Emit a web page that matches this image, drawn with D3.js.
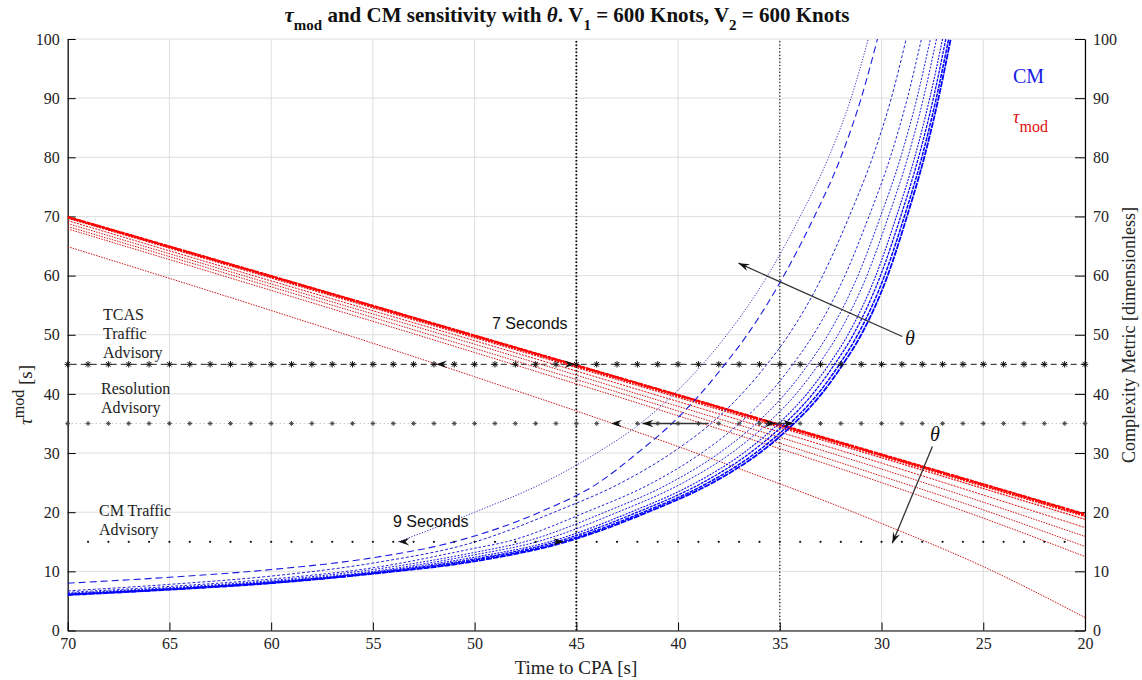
<!DOCTYPE html>
<html><head><meta charset="utf-8">
<script src="https://cdn.jsdelivr.net/npm/d3@7"></script>
<style>
body{margin:0;background:#fff}
svg{display:block}
</style>
</head><body>
<svg id="c" width="1142" height="680" font-family="Liberation Serif"></svg>
<script>
// ---------- data ----------
const xTicks = [70, 65, 60, 55, 50, 45, 40, 35, 30, 25, 20];
const yTicks = [0, 10, 20, 30, 40, 50, 60, 70, 80, 90, 100];

// tau_mod lines (red), values at these times to CPA
const redT = [70, 60, 50, 40, 30, 25, 20];
const red1 = [64.9, 54.1, 42.9, 31.1, 18.1, 10.8, 2.2];
const red2 = [67.9, 57.5, 47.0, 36.3, 25.0, 19.0, 12.5];
const red3 = [68.3, 58.1, 47.7, 37.1, 26.1, 20.4, 14.2];
const red4 = [68.8, 58.6, 48.4, 37.9, 27.3, 21.7, 15.9];
const red5 = [69.3, 59.1, 49.0, 38.7, 28.3, 22.9, 17.4];
const red6 = [69.7, 59.6, 49.5, 39.4, 29.2, 24.0, 18.8];
const red7 = [69.8, 59.8, 49.7, 39.65, 29.5, 24.4, 19.3];
const red8 = [69.85, 59.85, 49.8, 39.75, 29.65, 24.6, 19.5];
const red9 = [69.9, 59.9, 49.85, 39.8, 29.7, 24.7, 19.6];
const red10 = [69.95, 59.95, 49.9, 39.85, 29.8, 24.75, 19.7];

// CM curves (blue): lower part as values at fixed times,
// upper part as times at which fixed CM levels are reached
const blueLowT = [70, 65, 60, 55, 50];
const blueV = [15, 20, 25, 30, 35, 40, 45, 50, 60, 70, 80, 90, 100];
const blue1Low = [];
const blue1T = [53.75, 50.0, 46.6, 44.0, 41.85, 40.2, 38.8, 37.6, 35.6, 34.0, 32.6, 31.5, 30.65];
const blue2Low = [8.0, 9.0, 10.3, 12.3];
const blue2T = [51.0, 46.8, 43.9, 42.0, 40.3, 38.9, 37.7, 36.6, 34.8, 33.3, 32.0, 31.0, 30.2];
const blue3Low = [6.7, 7.8, 9.2, 11.4];
const blue3T = [49.96, 46.09, 42.78, 40.32, 38.38, 36.87, 35.63, 34.56, 32.89, 31.59, 30.44, 29.52, 28.79];
const blue4Low = [6.45, 7.45, 8.7, 10.6, 13.9];
const blue4T = [48.44, 44.53, 41.25, 38.85, 36.99, 35.53, 34.36, 33.35, 31.8, 30.62, 29.57, 28.73, 28.04];
const blue5Low = [6.3, 7.25, 8.45, 10.3, 13.2];
const blue5T = [47.54, 43.6, 40.35, 37.98, 36.16, 34.74, 33.6, 32.63, 31.16, 30.05, 29.06, 28.26, 27.6];
const blue6Low = [6.2, 7.15, 8.3, 10.0, 12.8];
const blue6T = [46.93, 42.97, 39.74, 37.38, 35.61, 34.2, 33.09, 32.14, 30.72, 29.66, 28.71, 27.94, 27.3];
const blue7Low = [6.15, 7.05, 8.2, 9.85, 12.4];
const blue7T = [46.32, 42.34, 39.12, 36.79, 35.05, 33.67, 32.58, 31.65, 30.28, 29.27, 28.37, 27.63, 27.0];
const blue8Low = [6.1, 7.0, 8.1, 9.75, 12.1];
const blue8T = [45.99, 42.0, 38.79, 36.47, 34.75, 33.38, 32.31, 31.39, 30.05, 29.06, 28.18, 27.45, 26.84];
const blue9Low = [6.05, 6.95, 8.05, 9.65, 11.9];
const blue9T = [45.71, 41.71, 38.51, 36.2, 34.49, 33.13, 32.07, 31.17, 29.85, 28.88, 28.02, 27.31, 26.7];
const blue10Low = [6.0, 6.9, 8.0, 9.6, 11.7];
const blue10T = [45.5, 41.5, 38.3, 36.0, 34.3, 32.95, 31.9, 31.0, 29.7, 28.75, 27.9, 27.2, 26.6];

// threshold lines
const tcasTA = 45, tcasRA = 35, cmTA = 15;
const vLines = [45, 35];

// ---------- layout ----------
const SERIF = "Liberation Serif", SANS = "Liberation Sans";
const svg = d3.select("#c");
const x = d3.scaleLinear().domain([70, 20]).range([67.7, 1085]);
const y = d3.scaleLinear().domain([0, 100]).range([630.5, 39]);

// grid
const g = svg.append("g");
g.selectAll(".gx").data(xTicks).join("line")
  .attr("x1", d => x(d)).attr("x2", d => x(d)).attr("y1", y(0)).attr("y2", y(100))
  .attr("stroke", "#dedede").attr("stroke-width", 1);
g.selectAll(".gy").data(yTicks).join("line")
  .attr("x1", x(70)).attr("x2", x(20)).attr("y1", d => y(d)).attr("y2", d => y(d))
  .attr("stroke", "#dedede").attr("stroke-width", 1);

// axes
const fmt = d3.format("d");
const axB = svg.append("g").attr("transform", `translate(0,${y(0)})`)
  .call(d3.axisBottom(x).tickValues(xTicks).tickFormat(fmt).tickSizeInner(-8).tickSizeOuter(0).tickPadding(7));
const axL = svg.append("g").attr("transform", `translate(${x(70)},0)`)
  .call(d3.axisLeft(y).tickValues(yTicks).tickFormat(fmt).tickSizeInner(-8).tickSizeOuter(0).tickPadding(8));
const axR = svg.append("g").attr("transform", `translate(${x(20)},0)`)
  .call(d3.axisRight(y).tickValues(yTicks).tickFormat(fmt).tickSizeInner(-10).tickSizeOuter(0).tickPadding(8));
[axB, axL, axR].forEach(a => {
  a.attr("font-family", SERIF).attr("font-size", 16);
  a.select(".domain").attr("stroke", "#000").attr("stroke-width", 1.2);
  a.selectAll(".tick line").attr("stroke", "#000");
  a.selectAll("text").attr("fill", "#222");
});

// clip
svg.append("clipPath").attr("id", "plot").append("rect")
  .attr("x", x(70)).attr("y", y(100)).attr("width", x(20) - x(70)).attr("height", y(0) - y(100));
const P = svg.append("g").attr("clip-path", "url(#plot)");

// vertical dotted lines
P.selectAll(".vl").data(vLines).join("line")
  .attr("x1", d => x(d)).attr("x2", d => x(d)).attr("y1", y(0)).attr("y2", y(100))
  .attr("stroke", "#000").attr("stroke-width", (d, i) => i === 0 ? 1.8 : 1.1)
  .attr("stroke-dasharray", (d, i) => i === 0 ? "1.5,2" : "1.2,2.2");

// star marker
function star(s) {
  const a = s * 0.72;
  return `M${-s},0H${s}M0,${-s}V${s}M${-a},${-a}L${a},${a}M${-a},${a}L${a},${-a}`;
}
const intT = d3.range(70, 19, -1);

// TCAS traffic advisory line (45)
P.append("line").attr("x1", x(70)).attr("x2", x(20)).attr("y1", y(tcasTA)).attr("y2", y(tcasTA))
  .attr("stroke", "#000").attr("stroke-width", 0.9).attr("stroke-dasharray", "6,4").attr("stroke-dashoffset", -3);
svg.selectAll(".s45").data(intT).join("path")
  .attr("transform", d => `translate(${x(d)},${y(tcasTA)})`).attr("d", star(3.2))
  .attr("stroke", "#111").attr("stroke-width", 1).attr("fill", "none");
// resolution advisory line (35)
P.append("line").attr("x1", x(70)).attr("x2", x(20)).attr("y1", y(tcasRA)).attr("y2", y(tcasRA))
  .attr("stroke", "#777").attr("stroke-width", 0.6).attr("stroke-dasharray", "1,3");
svg.selectAll(".s35").data(intT).join("path")
  .attr("transform", d => `translate(${x(d)},${y(tcasRA)})`).attr("d", star(2.4))
  .attr("stroke", "#444").attr("stroke-width", 0.9).attr("fill", "none");
// CM traffic advisory (15)
svg.selectAll(".d15").data(d3.range(69, 20, -1)).join("circle")
  .attr("cx", d => x(d)).attr("cy", y(cmTA)).attr("r", 1.1).attr("fill", "#111");

// ---------- curves ----------
const line = d3.line().x(d => x(d[0])).y(d => y(d[1])).curve(d3.curveMonotoneX);

const redSets = [red1, red2, red3, red4, red5, red6, red7, red8, red9, red10];
const redStyle = [
  {w: 1, c: "#cc1a1a", da: "1.5,1.2"}, {w: 1, c: "#d41515", da: "1.5,1.2"},
  {w: 1, c: "#d41515", da: "1.5,1.2"}, {w: 1, c: "#d41515", da: "1.5,1.2"},
  {w: 1, c: "#e01010", da: "2,1.2"}, {w: 1.2, c: "#e81010", da: "2,1"},
  {w: 1.5, c: "#ff0000", da: "2,1"}, {w: 1.7, c: "#ff0000", da: "3,1"},
  {w: 1.8, c: "#ff0000", da: "3,1"}, {w: 1.8, c: "#ff0000", da: "4,1"}];
redSets.forEach((vals, i) => {
  P.append("path").datum(redT.map((t, j) => [t, vals[j]])).attr("d", line)
    .attr("fill", "none").attr("stroke", redStyle[i].c).attr("stroke-width", redStyle[i].w)
    .attr("stroke-dasharray", redStyle[i].da);
});

const blueSets = [
  [blue1Low, blue1T], [blue2Low, blue2T], [blue3Low, blue3T], [blue4Low, blue4T], [blue5Low, blue5T],
  [blue6Low, blue6T], [blue7Low, blue7T], [blue8Low, blue8T], [blue9Low, blue9T], [blue10Low, blue10T]];
const blueStyle = [
  {w: 1, c: "#3a2fc0", da: "1.2,1.6"}, {w: 1.1, c: "#1a1ae0", da: "7,4"},
  {w: 1, c: "#2424d0", da: "3,2"}, {w: 1, c: "#2020d8", da: "2.5,2"},
  {w: 1, c: "#1c1ce0", da: "2,1.5"}, {w: 1, c: "#1818e8", da: "2,1.5"},
  {w: 1.1, c: "#1010f0", da: "2,1.2"}, {w: 1.3, c: "#0808f8", da: "3,1"},
  {w: 1.5, c: "#0000ff", da: "4,1"}, {w: 1.8, c: "#0000ff", da: "6,1"}];
blueSets.forEach(([low, T], i) => {
  const pts = low.map((v, j) => [blueLowT[j], v]).concat(blueV.map((v, j) => [T[j], v]));
  pts.sort((a, b) => b[0] - a[0]);
  P.append("path").datum(pts).attr("d", line)
    .attr("fill", "none").attr("stroke", blueStyle[i].c).attr("stroke-width", blueStyle[i].w)
    .attr("stroke-dasharray", blueStyle[i].da);
});

// ---------- annotations ----------
function head(px, py, ang, L = 11, W = 7.5) {
  const c = Math.cos(ang), s = Math.sin(ang);
  const p = [[0, 0], [-L, -W / 2], [-0.65 * L, 0], [-L, W / 2]]
    .map(([a, b]) => [px + a * c - b * s, py + a * s + b * c]);
  svg.append("path").attr("d", "M" + p.map(q => q.join(",")).join("L") + "Z").attr("fill", "#111");
}
function arrow(t0, v0, t1, v1, col = "#333") {
  const X0 = x(t0), Y0 = y(v0), X1 = x(t1), Y1 = y(v1);
  svg.append("line").attr("x1", X0).attr("y1", Y0).attr("x2", X1).attr("y2", Y1)
    .attr("stroke", col).attr("stroke-width", 1.3);
  head(X1, Y1, Math.atan2(Y1 - Y0, X1 - X0));
}
// theta arrows
arrow(28.98, 49.7, 37.03, 62.1);
arrow(27.5, 31.1, 29.47, 14.75);
// 7 seconds (TCAS TA)
head(x(51.9), y(45), Math.PI);
head(x(45.05), y(45), 0);
// 9 seconds (CM TA)
head(x(53.75), y(15), Math.PI);
head(x(45.6), y(15), 0);
// RA spreads
svg.append("line").attr("x1", x(41.75)).attr("x2", x(38.5)).attr("y1", y(35)).attr("y2", y(35)).attr("stroke", "#333").attr("stroke-width", 1.3);
svg.append("line").attr("x1", x(35.7)).attr("x2", x(34.4)).attr("y1", y(35)).attr("y2", y(35)).attr("stroke", "#333").attr("stroke-width", 1.3);
head(x(43.3), y(35), Math.PI);
head(x(41.75), y(35), Math.PI);
head(x(35.2), y(35), 0);
head(x(34.3), y(35), 0);

// text labels
const T = (tx, ty, str, opt = {}) => svg.append("text").attr("x", tx).attr("y", ty).text(str)
  .attr("font-size", opt.fs || 16).attr("fill", opt.c || "#222")
  .attr("font-family", opt.ff || SERIF).attr("font-style", opt.it ? "italic" : null)
  .attr("text-anchor", opt.a || "start");
T(103, 320, "TCAS"); T(103, 339, "Traffic"); T(103, 358, "Advisory");
T(101, 394, "Resolution"); T(101, 413, "Advisory");
T(99, 516, "CM Traffic"); T(99, 535, "Advisory");
T(492, 329, "7 Seconds", {ff: SANS, fs: 16, c: "#111"});
T(393, 527, "9 Seconds", {ff: SANS, fs: 16, c: "#111"});
T(910, 345, "θ", {it: true, fs: 20, a: "middle", c: "#111"});
T(935, 441, "θ", {it: true, fs: 20, a: "middle", c: "#111"});
T(1013, 83, "CM", {fs: 20, c: "#1a1ae6"});
const tm = svg.append("text").attr("x", 1013).attr("y", 123).attr("fill", "#e01010")
  .attr("font-size", 18).attr("font-family", SERIF);
tm.append("tspan").attr("font-style", "italic").text("τ");
tm.append("tspan").attr("dy", 9).attr("font-size", 16).text("mod");

// title
const ti = svg.append("text").attr("x", 567).attr("y", 22).attr("text-anchor", "middle")
  .attr("font-family", SERIF).attr("font-weight", "bold").attr("font-size", 21).attr("fill", "#111");
ti.append("tspan").attr("font-style", "italic").text("τ");
ti.append("tspan").attr("dy", 8).attr("font-size", 15).text("mod");
ti.append("tspan").attr("dy", -8).text(" and CM sensitivity with ");
ti.append("tspan").attr("font-style", "italic").text("θ");
ti.append("tspan").text(". V");
ti.append("tspan").attr("dy", 8).attr("font-size", 15).text("1");
ti.append("tspan").attr("dy", -8).text(" = 600 Knots, V");
ti.append("tspan").attr("dy", 8).attr("font-size", 15).text("2");
ti.append("tspan").attr("dy", -8).text(" = 600 Knots");

// axis titles
svg.append("text").attr("x", 576).attr("y", 674).attr("text-anchor", "middle").attr("font-family", SERIF)
  .attr("font-size", 19).attr("fill", "#222").text("Time to CPA [s]");
const yl = svg.append("text").attr("transform", "translate(32,395) rotate(-90)").attr("font-family", SERIF)
  .attr("text-anchor", "middle").attr("font-size", 19).attr("fill", "#222");
yl.append("tspan").attr("font-style", "italic").text("τ");
yl.append("tspan").attr("dy", -8).attr("font-size", 16).text("mod");
yl.append("tspan").attr("dy", 8).text(" [s]");
svg.append("text").attr("transform", "translate(1135,335) rotate(-90)").attr("font-family", SERIF)
  .attr("text-anchor", "middle").attr("font-size", 18).attr("fill", "#222")
  .text("Complexity Metric [dimensionless]");
</script>
</body></html>
